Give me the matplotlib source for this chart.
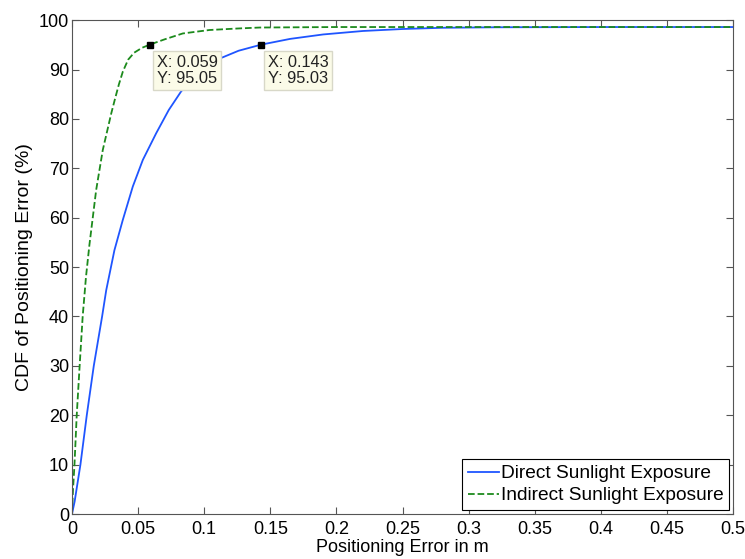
import matplotlib.pyplot as plt
import numpy as np

plt.rcParams.update({
    "font.family": ["Liberation Sans", "DejaVu Sans"],
    "font.size": 13,
    "xtick.direction": "in",
    "ytick.direction": "in",
    "xtick.top": True,
    "ytick.right": True,
})

# CDF (x in m, y in %)
direct_x = [0, 0.002, 0.0064, 0.0112, 0.0165, 0.0228, 0.0259, 0.0321, 0.0384,
            0.046, 0.0536, 0.0637, 0.0732, 0.0824, 0.091, 0.1005, 0.1116,
            0.126, 0.143, 0.165, 0.19, 0.22, 0.25, 0.28, 0.32, 0.4, 0.5]
direct_y = [0, 2.5, 10, 20, 30, 40, 45.3, 53.4, 59.5,
            66.3, 71.7, 77.1, 81.8, 85.5, 88.3, 90.5, 92.2,
            93.8, 95.03, 96.2, 97.1, 97.8, 98.2, 98.45, 98.55, 98.6, 98.6]
indirect_x = [0, 0.0008, 0.0019, 0.0036, 0.0058, 0.0081, 0.0106, 0.0132, 0.0183,
              0.0233, 0.0297, 0.0325, 0.0355, 0.0385, 0.0425, 0.047, 0.053, 0.059,
              0.07, 0.0838, 0.104, 0.125, 0.142, 0.2, 0.5]
indirect_y = [0, 5, 10, 20, 30, 40, 48, 54.5, 65.6,
              73.7, 81.1, 84, 87, 89.6, 92, 93.4, 94.4, 95.05,
              96.1, 97.3, 98.0, 98.3, 98.5, 98.6, 98.6]

tips = [(0.059, 95.05), (0.143, 95.03)]

fig = plt.figure(figsize=(7.45, 5.59), dpi=100)
ax = fig.add_axes([0.0966, 0.0805, 0.8874, 0.8835])

ax.plot(direct_x, direct_y, "-", color="#1f55ff", lw=1.3, label="Direct Sunlight Exposure")
ax.plot(indirect_x, indirect_y, "--", color="#1c8a1c", lw=1.3, label="Indirect Sunlight Exposure")

for x, y in tips:
    ax.plot(x, y, "s", color="black", ms=4, zorder=5)
    ax.annotate(f"X: {x:.3f}\nY: {y:.2f}", xy=(x, y), xytext=(5, -7.5),
                textcoords="offset points", ha="left", va="top", fontsize=11.8,
                color="#222222", linespacing=1.1,
                bbox=dict(boxstyle="square,pad=0.22", fc="#fbfbe8", ec="#d8d8c8", lw=1))

ax.set_xlim(0, 0.5)
ax.set_ylim(0, 100)
ax.set_xticks(np.arange(0, 0.501, 0.05))
ax.set_xticklabels(["0", "0.05", "0.1", "0.15", "0.2", "0.25", "0.3", "0.35", "0.4", "0.45", "0.5"])
ax.set_yticks(np.arange(0, 101, 10))
ax.tick_params(length=5, width=0.8, color="#555555", pad=2)
ax.tick_params(axis="x", pad=5)
for s in ax.spines.values():
    s.set_color("#555555")
    s.set_linewidth(0.8)

ax.set_xlabel("Positioning Error in m", labelpad=1)
ax.set_ylabel("CDF of Positioning Error (%)", labelpad=4, fontsize=14)

leg = ax.legend(loc="lower right", fancybox=False, edgecolor="black", framealpha=1,
                borderaxespad=0.2, handlelength=1.6, handletextpad=0.1,
                borderpad=0.3, labelspacing=0.25, fontsize=13.8)
leg.get_frame().set_linewidth(0.8)

fig.savefig("out.png", dpi=100)
